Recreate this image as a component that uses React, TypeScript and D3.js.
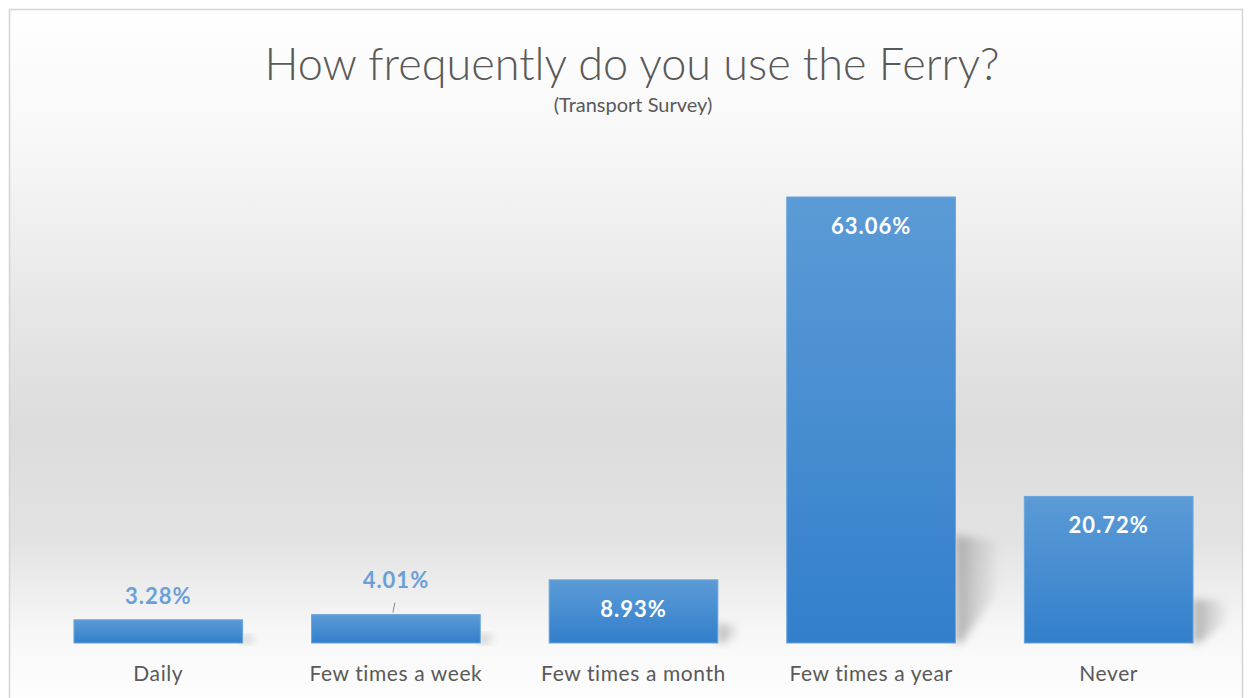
import * as d3 from 'd3';

const categories = ['Daily', 'Few times a week', 'Few times a month', 'Few times a year', 'Never'];
const shares = [3.28, 4.01, 8.93, 63.06, 20.72];
const valueLabels = ['3.28%', '4.01%', '8.93%', '63.06%', '20.72%'];
// which labels sit above the bar (outside end) instead of inside
const labelOutside = [true, true, false, false, false];

const W = 1249;
const H = 698;
const baseY = 643;
const topY = 197;
const FONT = 'Lato, Carlito, Calibri, "Open Sans", sans-serif';

export default function App() {
  const x = d3
    .scaleBand<string>()
    .domain(categories)
    .range([39.5, 1227.5])
    .paddingInner(0.29)
    .paddingOuter(0.145);
  const y = d3.scaleLinear().domain([0, 63.06]).range([baseY, topY]);
  const bw = x.bandwidth();

  // soft perspective shadow to the right of each bar
  const shadowPath = (x1: number, h: number) => {
    const sh = Math.min(108, h * 0.3);
    const dx = Math.min(40, 10 + h * 0.15);
    return `M${x1},${baseY} L${x1},${baseY - sh} L${x1 + dx},${baseY - sh * 0.95} L${x1 + dx},${
      baseY - sh * 0.45
    } L${x1 + 6},${baseY} Z`;
  };

  return (
    <svg
      width={W}
      height={H}
      style={{ position: 'absolute', left: 0, top: 0, display: 'block' }}
      fontFamily={FONT}
    >
      <defs>
        <linearGradient id="bg" x1="0" y1="0" x2="0" y2="1">
          <stop offset="0" stopColor="#ffffff" />
          <stop offset="0.2" stopColor="#f7f7f7" />
          <stop offset="0.42" stopColor="#e7e7e7" />
          <stop offset="0.6" stopColor="#dcdcdc" />
          <stop offset="0.76" stopColor="#e3e3e3" />
          <stop offset="0.89" stopColor="#f7f7f7" />
          <stop offset="1" stopColor="#ffffff" />
        </linearGradient>
        <linearGradient id="bar" x1="0" y1="0" x2="0" y2="1">
          <stop offset="0" stopColor="#5b9bd6" />
          <stop offset="1" stopColor="#337fcc" />
        </linearGradient>
        <linearGradient id="shade" x1="0" y1="0" x2="1" y2="0">
          <stop offset="0" stopColor="#999999" stopOpacity={0.8} />
          <stop offset="1" stopColor="#bdbdbd" stopOpacity={0.2} />
        </linearGradient>
        <filter id="blur" x="-30%" y="-30%" width="160%" height="160%">
          <feGaussianBlur stdDeviation="4" />
        </filter>
      </defs>

      <rect x={0} y={0} width={W} height={H} fill="#ffffff" />
      <rect x={9.5} y={9.5} width={1233} height={700} fill="url(#bg)" stroke="#d4d4d4" strokeWidth={1.5} />

      <text x={632} y={80} textAnchor="middle" fontSize={45} fontWeight={300} fill="#595959">
        How frequently do you use the Ferry?
      </text>
      <text x={633} y={112} textAnchor="middle" fontSize={20} fill="#595959">
        (Transport Survey)
      </text>

      {categories.map((c, i) => (
        <path
          key={`s-${c}`}
          d={shadowPath((x(c) ?? 0) + bw, baseY - y(shares[i]))}
          fill="url(#shade)"
          filter="url(#blur)"
        />
      ))}

      {categories.map((c, i) => (
        <rect
          key={`b-${c}`}
          x={x(c)}
          y={y(shares[i])}
          width={bw}
          height={baseY - y(shares[i])}
          fill="url(#bar)"
          stroke="#6aa6dd"
          strokeWidth={1}
        />
      ))}

      {categories.map((c, i) => {
        const cx = (x(c) ?? 0) + bw / 2;
        const top = y(shares[i]);
        if (labelOutside[i]) {
          const lift = i === 1 ? 27 : 16;
          return (
            <g key={`l-${c}`}>
              {i === 1 && (
                <line x1={cx - 3} y1={top - 2} x2={cx - 1} y2={top - 12} stroke="#8c8c8c" strokeWidth={1} />
              )}
              <text
                x={cx}
                y={top - lift}
                textAnchor="middle"
                fontSize={22}
                fontWeight={700}
                letterSpacing={1}
                fill="#6a9fd8"
              >
                {valueLabels[i]}
              </text>
            </g>
          );
        }
        return (
          <text
            key={`l-${c}`}
            x={cx}
            y={top + 37}
            textAnchor="middle"
            fontSize={22}
            fontWeight={700}
            letterSpacing={1}
            fill="#ffffff"
          >
            {valueLabels[i]}
          </text>
        );
      })}

      {categories.map((c) => (
        <text
          key={`c-${c}`}
          x={(x(c) ?? 0) + bw / 2}
          y={681}
          textAnchor="middle"
          fontSize={21}
          letterSpacing={0.6}
          fill="#595959"
        >
          {c}
        </text>
      ))}
    </svg>
  );
}
